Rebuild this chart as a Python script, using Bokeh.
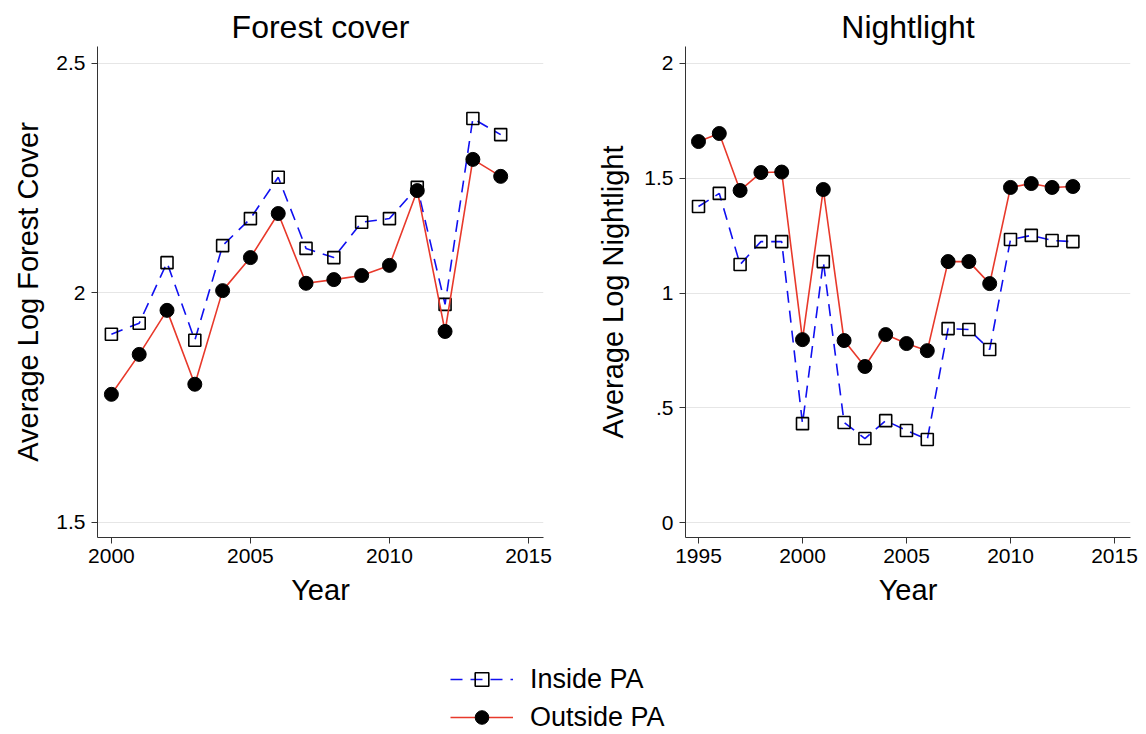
from bokeh.plotting import figure
from bokeh.layouts import column, row
from bokeh.models import Range1d, Legend, LegendItem, FixedTicker
from bokeh.embed import file_html
from bokeh.resources import INLINE

# ---- data ----
fc_years = list(range(2000, 2015))
fc_inside = [1.910, 1.934, 2.066, 1.897, 2.103, 2.162, 2.252, 2.097, 2.077, 2.154, 2.162, 2.230, 1.975, 2.380, 2.345]
fc_outside = [1.779, 1.866, 1.962, 1.801, 2.005, 2.077, 2.173, 2.021, 2.029, 2.038, 2.060, 2.223, 1.916, 2.291, 2.254]

nl_years = list(range(1995, 2014))
nl_inside = [1.377, 1.434, 1.124, 1.224, 1.224, 0.431, 1.137, 0.436, 0.366, 0.444, 0.401, 0.362,
             0.845, 0.841, 0.754, 1.233, 1.251, 1.229, 1.224]
nl_outside = [1.660, 1.695, 1.447, 1.525, 1.527, 0.797, 1.451, 0.793, 0.680, 0.819, 0.780, 0.749,
              1.137, 1.137, 1.041, 1.460, 1.477, 1.460, 1.464]

fc_yticks = [1.5, 2, 2.5]
fc_ylabels = {1.5: "1.5", 2: "2", 2.5: "2.5"}
nl_yticks = [0, 0.5, 1, 1.5, 2]
nl_ylabels = {0: "0", 0.5: ".5", 1: "1", 1.5: "1.5", 2: "2"}
fc_xticks = [2000, 2005, 2010, 2015]
nl_xticks = [1995, 2000, 2005, 2010, 2015]

FONT = "Liberation Sans"
BLUE = "#1010f0"
RED = "#e8392b"
AXIS = "#333333"


def make_panel(title, ylabel, xr, yr, xt, yt, ylab_over, years, ins, outs, bl, br, ystand):
    p = figure(width=573, height=620, x_range=Range1d(*xr), y_range=Range1d(*yr),
               output_backend="svg", toolbar_location=None, title=title,
               min_border_left=bl, min_border_right=br, min_border_top=46, min_border_bottom=83)
    p.title.align = "center"
    p.title.text_font = FONT
    p.title.text_font_size = "32px"
    p.title.text_font_style = "normal"
    p.title.text_color = "#000000"
    p.title.offset = 0
    p.title.standoff = 4
    p.outline_line_color = None
    p.xgrid.grid_line_color = None
    p.ygrid.grid_line_color = "#e6e6e6"
    p.ygrid.grid_line_width = 1
    for ax in (p.xaxis[0], p.yaxis[0]):
        ax.axis_line_color = AXIS
        ax.major_tick_line_color = AXIS
        ax.major_tick_out = 6
        ax.major_tick_in = 0
        ax.minor_tick_line_color = None
        ax.major_label_text_font = FONT
        ax.major_label_text_font_size = "21px"
        ax.major_label_text_color = "#000000"
        ax.axis_label_text_font = FONT
        ax.axis_label_text_font_size = "29px"
        ax.axis_label_text_font_style = "normal"
        ax.axis_label_text_color = "#000000"
    p.xaxis.ticker = FixedTicker(ticks=xt)
    p.yaxis.ticker = FixedTicker(ticks=yt)
    p.yaxis.major_label_overrides = ylab_over
    p.yaxis.major_label_orientation = "horizontal"
    p.xaxis.axis_label = "Year"
    p.yaxis.axis_label = ylabel
    p.xaxis.axis_label_standoff = 8
    p.yaxis.axis_label_standoff = ystand
    p.xaxis.major_label_standoff = 5
    p.yaxis.major_label_standoff = 6

    p.line(years, ins, line_color=BLUE, line_width=1.6, line_dash="12 8")
    p.scatter(years, ins, marker="square", size=12, fill_color=None, line_color="#000000", line_width=1.6)
    p.line(years, outs, line_color=RED, line_width=1.6)
    p.scatter(years, outs, marker="circle", size=14, fill_color="#000000", line_color="#000000")
    return p


p1 = make_panel("Forest cover", "Average Log Forest Cover", (1999.5, 2015.54), (1.467, 2.537),
                fc_xticks, fc_yticks, fc_ylabels, fc_years, fc_inside, fc_outside, 97, 30, 9)
p2 = make_panel("Nightlight", "Average Log Nightlight", (1994.375, 2015.77), (-0.065, 2.074),
                nl_xticks, nl_yticks, nl_ylabels, nl_years, nl_inside, nl_outside, 112, 16, 12)

# legend panel (dummy renderers outside the visible range, used only for legend glyphs)
pl = figure(width=1146, height=114, x_range=Range1d(0, 1), y_range=Range1d(0, 1),
            output_backend="svg", toolbar_location=None, min_border=0)
pl.axis.visible = False
pl.grid.visible = False
pl.outline_line_color = None
l1 = pl.line(x=[-5, -4], y=[-5, -4], line_color=BLUE, line_width=1.6, line_dash="12 8")
s1 = pl.scatter(x=[-5], y=[-5], marker="square", size=12, fill_color=None, line_color="#000000", line_width=1.6)
l2 = pl.line(x=[-5, -4], y=[-5, -4], line_color=RED, line_width=1.6)
s2 = pl.scatter(x=[-5], y=[-5], marker="circle", size=14, fill_color="#000000", line_color="#000000")
legend = Legend(items=[LegendItem(label="Inside PA", renderers=[l1, s1]),
                       LegendItem(label="Outside PA", renderers=[l2, s2])],
                location=(450, 0), orientation="vertical")
legend.glyph_width = 63
legend.glyph_height = 34
legend.spacing = 4
legend.padding = 0
legend.margin = 0
legend.label_standoff = 17
legend.label_text_font = FONT
legend.label_text_font_size = "27px"
legend.label_text_color = "#000000"
legend.label_height = 34
legend.border_line_color = None
legend.background_fill_alpha = 0
pl.add_layout(legend, "center")

layout = column(row(p1, p2), pl)
open("out.html", "w").write(file_html(layout, INLINE))
